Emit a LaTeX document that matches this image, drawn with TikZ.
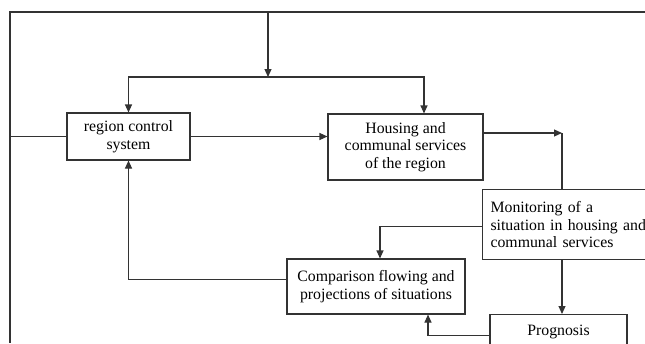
\documentclass[tikz,border=0pt]{standalone}
\usepackage{fontspec}
\setmainfont{Liberation Serif}
\usetikzlibrary{arrows.meta}

\begin{document}
\begin{tikzpicture}[x=1pt, y=-1pt, line width=1.1pt, draw={black!80},
    >={Triangle[length=8pt,width=7pt]},
    block/.style={draw, rectangle, align=center, inner sep=2pt,
      font=\fontsize{15.8}{17.5}\selectfont}]
        \useasboundingbox (0,0) rectangle (645,343);
        \clip (0,0) rectangle (645,343);
        % boxes
        \node [block, minimum width=123, minimum height=47] (ctrl) at (128.5,136.5) {region control\\system};
        \node [block, minimum width=155, minimum height=66] (hous) at (405.5,147) {Housing and\\communal services\\of the region};
        \node [block, anchor=north west, align=left, text width=175, inner xsep=8pt, minimum height=70] (mon) at (482,189) {Monitoring of a\\situation in housing and\\communal services};
        \node [block, minimum width=178, minimum height=55] (cmp) at (376,286.5) {Comparison flowing and\\projections of situations};
        \node [block, anchor=north, minimum width=137, minimum height=34] (prog) at (558.5,314) {Prognosis};
        % frame lines
        \coordinate (tl) at (10,12);
        \coordinate (tr) at (645,12);
        \coordinate (bl) at (10,343);
        \coordinate (top) at (268,12);
        \coordinate (split) at (268,77);
        \coordinate (turn) at (562,133);
        \draw (tr) -- (tl) -- (bl);
        % connectors
        \draw [->] (top) -- (split);
        \draw [->] (split) -| (ctrl.north);
        \draw [->] (split) -| ([xshift=18.5pt]hous.north);
        \draw (bl |- ctrl.west) -- (ctrl.west);
        \draw [->] (ctrl.east) -- (ctrl.east -| hous.west);
        \draw [->] (hous.east |- turn) -- (turn);
        \draw (turn) -- (turn |- mon.north);
        \draw [->] ([yshift=-2pt]mon.west) -| ([xshift=4pt]cmp.north);
        \draw [->] ([yshift=7pt]cmp.west) -| (ctrl.south);
        \draw [->] (turn |- mon.south) -- (turn |- prog.north);
        \draw [->] ([yshift=-4pt]prog.west) -| ([xshift=52pt]cmp.south);
      \end{tikzpicture}
\end{document}
